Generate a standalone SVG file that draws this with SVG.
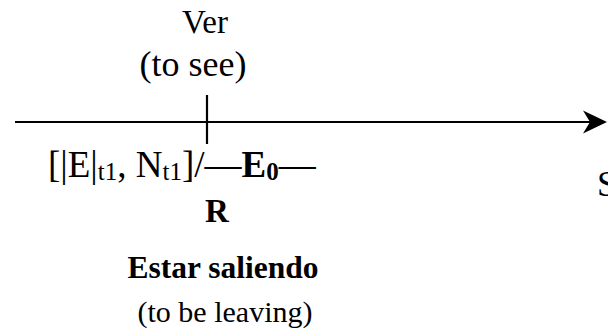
<svg xmlns="http://www.w3.org/2000/svg" width="608" height="331" viewBox="0 0 608 331">
<style>
.t{font-family:"Liberation Serif","Times New Roman",serif;fill:#000}
.b{font-weight:bold}
.sub{font-size:25px}
.ln{stroke:#000;stroke-width:2.2;fill:none}
</style>
<rect width="608" height="331" fill="#fff"/>
<g id="connectors">
<line class="ln" x1="15" y1="122" x2="592" y2="122"/>
<path d="M607,122 L583,110.5 L590,122 L583,133.5 Z" fill="#000"/>
<line class="ln" x1="207" y1="95" x2="207" y2="144"/>
</g>
<g id="ver">
<text class="t" x="205" y="33" text-anchor="middle" style="font-size:33px">Ver</text>
<text class="t" x="193" y="76" text-anchor="middle" style="font-size:36px">(to see)</text>
</g>
<g id="formula">
<text class="t" x="48" y="177" style="font-size:37px">[|E|<tspan class="sub" dy="3">t1</tspan><tspan dy="-3">, N</tspan><tspan class="sub" dy="3">t1</tspan><tspan dy="-3">]/—</tspan><tspan class="b">E</tspan><tspan class="b sub" dy="3">0</tspan><tspan dy="-3">—</tspan></text>
</g>
<g id="r">
<text class="t b" x="217" y="222" text-anchor="middle" style="font-size:33px">R</text>
</g>
<g id="estar">
<text class="t b" x="223" y="278" text-anchor="middle" style="font-size:31.5px">Estar saliendo</text>
<text class="t" x="225" y="322" text-anchor="middle" style="font-size:30px">(to be leaving)</text>
</g>
<g id="s">
<text class="t" x="597" y="196" style="font-size:36px">S</text>
</g>
</svg>
